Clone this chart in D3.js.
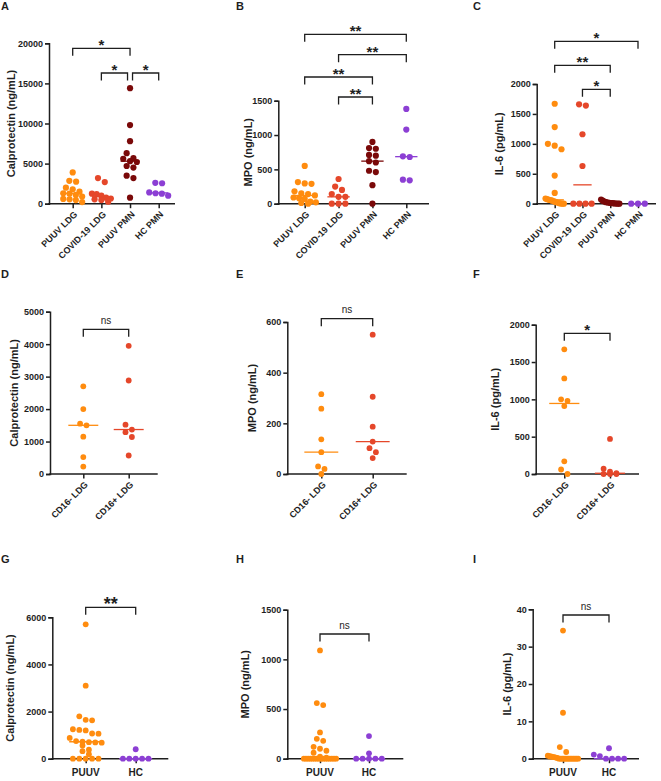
<!DOCTYPE html>
<html><head><meta charset="utf-8">
<script src="https://cdn.jsdelivr.net/npm/d3@7"></script>
<style>body{margin:0;background:#fff}svg{display:block}text{font-family:"Liberation Sans",Arial,Helvetica,sans-serif}</style>
</head><body><svg id="c" width="661" height="781"></svg>
<script>
// ---------- categories ----------
const catsABC = ["PUUV LDG", "COVID-19 LDG", "PUUV PMN", "HC PMN"];
const catsDEF = ["CD16- LDG", "CD16+ LDG"];
const catsGHI = ["PUUV", "HC"];

// ---------- A: Calprotectin (ng/mL) ----------
const calproPuuvLdg = [3900, 2850, 2750, 2000, 1800, 1500, 1300, 1250, 1100, 900, 600, 550, 450, 200];
const calproCovidLdg = [3200, 2700, 1250, 1200, 1000, 750, 650, 550, 450, 250];
const calproPuuvPmn = [14400, 9800, 7800, 6300, 5700, 5600, 5300, 5200, 4700, 4500, 3500, 3200, 750];
const calproHcPmn = [2600, 2550, 1400, 1300, 1250, 1000];
// ---------- B: MPO (ng/mL) ----------
const mpoPuuvLdg = [550, 315, 295, 290, 180, 150, 140, 120, 90, 80, 70, 30, 20, 10, 0];
const mpoCovidLdg = [360, 250, 200, 140, 100, 100, 0, 0, 0];
const mpoPuuvPmn = [900, 810, 800, 710, 700, 620, 600, 480, 460, 270, 0];
const mpoHcPmn = [1380, 1080, 690, 680, 350, 340];
// ---------- C: IL-6 (pg/mL) ----------
const il6PuuvLdg = [1670, 1280, 1000, 970, 910, 470, 180, 85, 75, 65, 60, 50, 40, 30, 20, 10, 5, 0, 0];
const il6CovidLdg = [1660, 1640, 1160, 630, 0, 0, 0, 0];
const il6PuuvPmn = [70, 50, 35, 25, 20, 15, 10, 8, 5, 3, 0, 0];
const il6HcPmn = [0, 0, 0];
// ---------- D/E/F: CD16- vs CD16+ LDG ----------
const calproCd16Neg = [2700, 2000, 1550, 1500, 1150, 520, 230];
const calproCd16Pos = [3950, 2880, 1520, 1370, 1290, 1140, 570];
const mpoCd16Neg = [315, 258, 137, 86, 30, 20, 0];
const mpoCd16Pos = [550, 305, 187, 128, 102, 86, 63];
const il6Cd16Neg = [1670, 1280, 1000, 980, 910, 170, 60, 0];
const il6Cd16Pos = [470, 70, 30, 10, 0, 0, 0];
// ---------- G/H/I: PUUV vs HC (plasma) ----------
const calproPuuv = [5700, 3100, 1800, 1650, 1630, 1250, 1220, 1200, 1070, 1060, 880, 750, 720, 700, 690, 680, 560, 380, 320, 190, 0, 0, 0, 0, 0];
const calproHc = [400, 0, 0, 0, 0, 0];
const mpoPuuv = [1090, 560, 540, 265, 200, 180, 120, 100, 80, 60, 20, 10, 0, 0, 0, 0, 0, 0, 0, 0, 0, 0, 0, 0, 0, 0, 0, 0];
const mpoHc = [228, 54, 0, 0, 0, 0, 0];
const il6Puuv = [34.3, 12.3, 3.1, 1.8, 0.8, 0.7, 0.6, 0.5, 0.4, 0.3, 0.2, 0, 0, 0, 0, 0, 0, 0, 0, 0, 0, 0, 0, 0];
const il6Hc = [2.8, 1.1, 0.7, 0, 0, 0, 0];

// ---------- tick labels ----------
const ticksA = [0, 5000, 10000, 15000, 20000];
const ticksB = [0, 500, 1000, 1500];
const ticksC = [0, 500, 1000, 1500, 2000];
const ticksD = [0, 1000, 2000, 3000, 4000, 5000];
const ticksE = [0, 200, 400, 600];
const ticksF = [0, 500, 1000, 1500, 2000];
const ticksG = [0, 2000, 4000, 6000];
const ticksH = [0, 500, 1000, 1500];
const ticksI = [0, 10, 20, 30, 40];

// ---------- significance labels ----------
const sigA = ["*", "*", "*"];
const sigB = ["**", "**", "**", "**"];
const sigC = ["*", "**", "*"];
const sigD = ["ns"], sigE = ["ns"], sigF = ["*"], sigG = ["**"], sigH = ["ns"], sigI = ["ns"];

const colOrange = "#ff8c0f", colRed = "#e5472a", colMaroon = "#7a0909", colPurple = "#8c3fd4";
const ink = "#1e1e1e";

const panels = [
  {id:"A", lx:1, ly:10, cats:catsABC, data:[calproPuuvLdg, calproCovidLdg, calproPuuvPmn, calproHcPmn], cols:[colOrange,colRed,colMaroon,colPurple],
   ticks:ticksA, title:"Calprotectin (ng/mL)", ax:49, xEnd:175, yTop:43.3, yBot:203.7, c0:72.7, c1:158.7, tx:11, rot:true, r:3.1,
   br:[[0,2,48.3,0,0],[1,2,73,0,-2.5],[2,3,73,2.5,0]], sig:sigA},
  {id:"B", lx:236, ly:10, cats:catsABC, data:[mpoPuuvLdg, mpoCovidLdg, mpoPuuvPmn, mpoHcPmn], cols:[colOrange,colRed,colMaroon,colPurple],
   ticks:ticksB, title:"MPO (ng/mL)", ax:278.3, xEnd:429, yTop:100.7, yBot:203.7, c0:304.7, c1:406.3, tx:248, rot:true, r:3.1,
   br:[[0,3,34.3,0,0],[1,3,54.7,0,0],[0,2,77,0,0],[1,2,97,0,0]], sig:sigB},
  {id:"C", lx:473, ly:10, cats:catsABC, data:[il6PuuvLdg, il6CovidLdg, il6PuuvPmn, il6HcPmn], cols:[colOrange,colRed,colMaroon,colPurple],
   ticks:ticksC, title:"IL-6 (pg/mL)", ax:536.7, xEnd:656, yTop:84, yBot:203.7, c0:554.7, c1:638, tx:499, rot:true, r:3.1,
   br:[[0,3,41.3,0,0],[0,2,65.3,0,0],[1,2,89.3,0,0]], sig:sigC},
  {id:"D", lx:1, ly:278, cats:catsDEF, data:[calproCd16Neg, calproCd16Pos], cols:[colOrange,colRed],
   ticks:ticksD, title:"Calprotectin (ng/mL)", ax:50, xEnd:157.7, yTop:311.7, yBot:474, c0:83.3, c1:128.7, tx:14, rot:true, r:2.9,
   br:[[0,1,329.3,0,0]], sig:sigD},
  {id:"E", lx:236, ly:278, cats:catsDEF, data:[mpoCd16Neg, mpoCd16Pos], cols:[colOrange,colRed],
   ticks:ticksE, title:"MPO (ng/mL)", ax:287.3, xEnd:406.7, yTop:322, yBot:474, c0:321.3, c1:372.7, tx:252, rot:true, r:2.9,
   br:[[0,1,318.7,0,0]], sig:sigE},
  {id:"F", lx:473, ly:278, cats:catsDEF, data:[il6Cd16Neg, il6Cd16Pos], cols:[colOrange,colRed],
   ticks:ticksF, title:"IL-6 (pg/mL)", ax:535.7, xEnd:639, yTop:324.7, yBot:474, c0:564.3, c1:610, tx:495, rot:true, r:2.9,
   br:[[0,1,333.3,0,0]], sig:sigF},
  {id:"G", lx:1, ly:563, cats:catsGHI, data:[calproPuuv, calproHc], cols:[colOrange,colPurple],
   ticks:ticksG, title:"Calprotectin (ng/mL)", ax:52.3, xEnd:168.3, yTop:617.3, yBot:758.7, c0:85.7, c1:135.7, tx:10, rot:false, r:2.9,
   br:[[0,1,607.3,0,0]], sig:sigG, big:true},
  {id:"H", lx:236, ly:563, cats:catsGHI, data:[mpoPuuv, mpoHc], cols:[colOrange,colPurple],
   ticks:ticksH, title:"MPO (ng/mL)", ax:287.3, xEnd:403.3, yTop:609.7, yBot:758.7, c0:320, c1:369, tx:245, rot:false, r:2.9,
   br:[[0,1,634,0,0]], sig:sigH},
  {id:"I", lx:473, ly:563, cats:catsGHI, data:[il6Puuv, il6Hc], cols:[colOrange,colPurple],
   ticks:ticksI, title:"IL-6 (pg/mL)", ax:532.7, xEnd:639, yTop:609.3, yBot:758.7, c0:563, c1:609, tx:507, rot:false, r:2.9,
   br:[[0,1,615,0,0]], sig:sigI}
];

const svg = d3.select("#c");

function swarm(vals, y, cx, r, maxHalf) {
  const pts = vals.map(v => ({v, y: y(v)})).sort((a, b) => a.y - b.y);
  const rows = [];
  let cur = null;
  pts.forEach(p => {
    if (cur && p.y - cur[0].y < r * 1.75) cur.push(p);
    else { cur = [p]; rows.push(cur); }
  });
  rows.forEach(row => {
    const n = row.length;
    let step = 2 * r + 0.6;
    if (n > 1 && step * (n - 1) / 2 > maxHalf) step = 2 * maxHalf / (n - 1);
    row.forEach((p, i) => { p.x = cx + (i - (n - 1) / 2) * step; });
  });
  return pts;
}

panels.forEach(P => {
  const g = svg.append("g");
  const y = d3.scaleLinear().domain([0, d3.max(P.ticks)]).range([P.yBot, P.yTop]);
  const x = d3.scalePoint().domain(P.cats).range([P.c0, P.c1]);
  const spacing = (P.c1 - P.c0) / (P.cats.length - 1);
  const half = 0.33 * spacing;

  // panel letter
  g.append("text").attr("x", P.lx).attr("y", P.ly).attr("font-size", 11).attr("font-weight", "bold").attr("fill", ink).text(P.id);

  // y axis
  const ya = g.append("g").attr("transform", `translate(${P.ax},0)`)
    .call(d3.axisLeft(y).tickValues(P.ticks).tickFormat(d3.format("d")).tickSizeOuter(0).tickSize(4).tickPadding(2));
  ya.select(".domain").attr("stroke", ink).attr("stroke-width", 1.5);
  ya.selectAll(".tick line").attr("stroke", ink).attr("stroke-width", 1.5);
  ya.selectAll(".tick text").attr("font-size", 9).attr("font-weight", "bold").attr("fill", ink)
    .attr("font-family", '"Liberation Sans",Arial,sans-serif');

  // x axis
  g.append("line").attr("x1", P.ax - 0.75).attr("x2", P.xEnd).attr("y1", P.yBot).attr("y2", P.yBot).attr("stroke", ink).attr("stroke-width", 1.5);
  const xa = g.append("g").attr("transform", `translate(0,${P.yBot})`)
    .call(d3.axisBottom(x).tickSize(4.5).tickSizeOuter(0).tickFormat(""));
  xa.select(".domain").remove();
  xa.selectAll(".tick line").attr("stroke", ink).attr("stroke-width", 1.5);
  P.cats.forEach(c => {
    if (P.rot) {
      g.append("text").attr("transform", `translate(${x(c) + 3},${P.yBot + 9}) rotate(-45)`)
        .attr("text-anchor", "end").attr("dy", "0.35em").attr("font-size", 9).attr("font-weight", "bold").attr("fill", ink).text(c);
    } else {
      g.append("text").attr("x", x(c)).attr("y", P.yBot + 17.5).attr("text-anchor", "middle")
        .attr("font-size", 10).attr("font-weight", "bold").attr("fill", ink).text(c);
    }
  });

  // y title
  g.append("text").attr("transform", `translate(${P.tx},${(P.yTop + P.yBot) / 2}) rotate(-90)`)
    .attr("text-anchor", "middle").attr("dominant-baseline", "central")
    .attr("font-size", 11).attr("font-weight", "bold").attr("fill", ink).text(P.title);

  // points + median
  P.data.forEach((vals, i) => {
    const cx = x(P.cats[i]);
    const pts = swarm(vals, y, cx, P.r, half);
    g.append("g").selectAll("circle").data(pts).join("circle")
      .attr("cx", d => d.x).attr("cy", d => d.y).attr("r", P.r).attr("fill", P.cols[i]);
    const m = d3.median(vals);
    g.append("line").attr("x1", cx - half).attr("x2", cx + half).attr("y1", y(m)).attr("y2", y(m))
      .attr("stroke", P.cols[i]).attr("stroke-width", 1.3);
  });

  // brackets
  P.br.forEach((b, k) => {
    const xl = x(P.cats[b[0]]) + b[3], xr = x(P.cats[b[1]]) + b[4], by = b[2], drop = 7.5;
    g.append("path").attr("d", `M${xl},${by + drop}V${by}H${xr}V${by + drop}`)
      .attr("fill", "none").attr("stroke", ink).attr("stroke-width", 1.3);
    const s = P.sig[k];
    const t = g.append("text").attr("x", (xl + xr) / 2).attr("text-anchor", "middle").attr("fill", ink).text(s);
    if (s === "ns") t.attr("y", by - 5.5).attr("font-size", 10);
    else t.attr("y", by + (P.big ? 3 : 2)).attr("font-size", P.big ? 18 : 15).attr("font-weight", "bold");
  });
});
</script>
</body></html>
